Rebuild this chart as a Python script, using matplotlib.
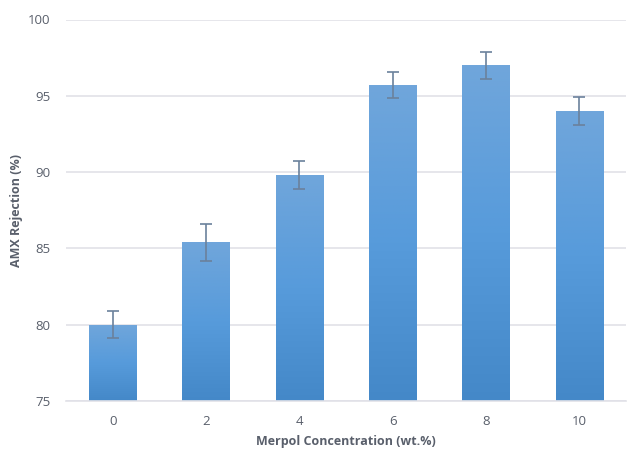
import numpy as np
import matplotlib.pyplot as plt
from matplotlib.colors import LinearSegmentedColormap

# data
concentration = ["0", "2", "4", "6", "8", "10"]
rejection = [80.0, 85.4, 89.8, 95.7, 97.0, 94.0]
rejection_err = [0.9, 1.2, 0.9, 0.87, 0.88, 0.9]

plt.rcParams["font.family"] = ["Open Sans", "DejaVu Sans"]

fig = plt.figure(figsize=(6.27, 4.49), dpi=100)
ax = fig.add_axes([66 / 627, 1 - 401 / 449, 560 / 627, 381.5 / 449])

x = np.arange(len(concentration))
bars = ax.bar(x, rejection, width=0.51, bottom=0, color="none", zorder=2)

# vertical gradient fill for each bar (lighter top, darker bottom)
cmap = LinearSegmentedColormap.from_list("bar", ["#4488c8", "#579bdb", "#70a6db"])
grad = np.linspace(0, 1, 256).reshape(-1, 1)
for b in bars:
    x0, w = b.get_x(), b.get_width()
    top = b.get_height()
    im = ax.imshow(grad, cmap=cmap, origin="lower", aspect="auto",
                   extent=[x0, x0 + w, 75, top], zorder=2)
    im.set_clip_path(b)

ax.errorbar(x, rejection, yerr=rejection_err, fmt="none", ecolor="#6b819c",
            elinewidth=1.2, capsize=4, capthick=1.2, zorder=3)

ax.set_xlim(-0.5, len(concentration) - 0.5)
ax.set_ylim(75, 100)
ax.set_yticks([75, 80, 85, 90, 95, 100])
ax.set_xticks(x)
ax.set_xticklabels(concentration)
ax.grid(axis="y", color="#e1e1e8", linewidth=1.2, zorder=0)
ax.set_axisbelow(True)
for s in ["top", "right", "left"]:
    ax.spines[s].set_visible(False)
ax.spines["bottom"].set_color("#e1e1e8")
ax.spines["bottom"].set_linewidth(1.2)
ax.tick_params(length=0, labelsize=9.5, labelcolor="#595f6b")
ax.tick_params(axis="x", pad=10)
ax.tick_params(axis="y", pad=11)

ax.set_xlabel("Merpol Concentration (wt.%)", fontsize=9, fontweight="bold",
              color="#595f6b", labelpad=5)
ax.set_ylabel("AMX Rejection (%)", fontsize=9, fontweight="bold",
              color="#595f6b", labelpad=4)

plt.savefig("out.png", dpi=100)
plt.close()
